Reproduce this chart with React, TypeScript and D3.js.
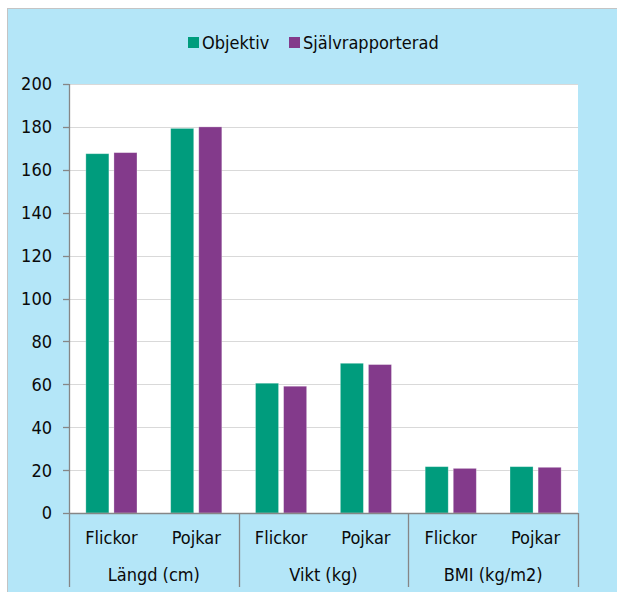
import React, { useEffect, useRef } from 'react';
import * as d3 from 'd3';

const groups = ['Längd (cm)', 'Vikt (kg)', 'BMI (kg/m2)'];
const subCategories = ['Flickor', 'Pojkar'];
const seriesNames = ['Objektiv', 'Självrapporterad'];
const seriesColors = ['#009c7d', '#833a8b'];

// values per group, ordered Flickor, Pojkar
const objektiv = [
  [167.5, 179.3],
  [60.5, 69.8],
  [21.6, 21.6],
];
const sjalvrapporterad = [
  [168.0, 180.0],
  [59.1, 69.2],
  [20.8, 21.3],
];
const yTicks = [0, 20, 40, 60, 80, 100, 120, 140, 160, 180, 200];

const W = 617;
const H = 592;
const FONT = '"DejaVu Sans Condensed", "DejaVu Sans", sans-serif';
const FS = 18;

const App: React.FC = () => {
  const ref = useRef<SVGSVGElement>(null);

  useEffect(() => {
    if (!ref.current) return;
    const svg = d3.select(ref.current);
    svg.selectAll('*').remove();

    const plot = { left: 69, right: 578, top: 84, bottom: 513 };

    // background panel
    svg.append('rect').attr('x', 0).attr('y', 0).attr('width', W).attr('height', H).attr('fill', '#fff');
    svg.append('rect').attr('x', 7).attr('y', 8).attr('width', W - 7).attr('height', H - 8).attr('fill', '#b4e6f8');
    svg.append('line').attr('x1', 7).attr('x2', W).attr('y1', 8.5).attr('y2', 8.5).attr('stroke', '#c4c4c4');
    svg.append('line').attr('x1', 7.5).attr('x2', 7.5).attr('y1', 8).attr('y2', H).attr('stroke', '#c4c4c4');

    svg
      .append('rect')
      .attr('x', plot.left)
      .attr('y', plot.top)
      .attr('width', plot.right - plot.left)
      .attr('height', plot.bottom - plot.top)
      .attr('fill', '#fff');

    const y = d3.scaleLinear().domain([0, 200]).range([plot.bottom, plot.top]);
    const x0 = d3.scaleBand().domain(groups).range([plot.left, plot.right]);
    const x1 = d3.scaleBand().domain(subCategories).range([0, x0.bandwidth()]);
    const x2 = d3
      .scaleBand()
      .domain(seriesNames)
      .range([0, x1.bandwidth()])
      .paddingInner(0.18)
      .paddingOuter(0.6);

    // gridlines
    svg
      .append('g')
      .selectAll('line')
      .data(yTicks.filter((t) => t > 0))
      .enter()
      .append('line')
      .attr('x1', plot.left)
      .attr('x2', plot.right)
      .attr('y1', (d) => Math.round(y(d)) + 0.5)
      .attr('y2', (d) => Math.round(y(d)) + 0.5)
      .attr('stroke', '#d9d9d9')
      .attr('stroke-width', 1.2);

    // bars
    const rows = groups.flatMap((g, gi) =>
      subCategories.map((s, si) => ({
        group: g,
        sub: s,
        values: [objektiv[gi][si], sjalvrapporterad[gi][si]],
      }))
    );

    svg
      .append('g')
      .selectAll('g')
      .data(rows)
      .enter()
      .append('g')
      .attr('transform', (d) => `translate(${(x0(d.group) || 0) + (x1(d.sub) || 0)},0)`)
      .selectAll('rect')
      .data((d) => d.values.map((v, i) => ({ key: seriesNames[i], value: v, color: seriesColors[i] })))
      .enter()
      .append('rect')
      .attr('x', (d) => x2(d.key) || 0)
      .attr('y', (d) => y(d.value))
      .attr('width', x2.bandwidth())
      .attr('height', (d) => y(0) - y(d.value))
      .attr('fill', (d) => d.color)
      .attr('stroke', '#ffffff')
      .attr('stroke-opacity', 0.35)
      .attr('stroke-width', 0.8);

    // y axis
    const axisColor = '#868686';
    svg
      .append('line')
      .attr('x1', plot.left + 0.5)
      .attr('x2', plot.left + 0.5)
      .attr('y1', plot.top)
      .attr('y2', plot.bottom)
      .attr('stroke', axisColor)
      .attr('stroke-width', 1.3);

    const yAxis = svg.append('g');
    yAxis
      .selectAll('line')
      .data(yTicks)
      .enter()
      .append('line')
      .attr('x1', plot.left - 6)
      .attr('x2', plot.left)
      .attr('y1', (d) => Math.round(y(d)) + 0.5)
      .attr('y2', (d) => Math.round(y(d)) + 0.5)
      .attr('stroke', axisColor)
      .attr('stroke-width', 1.3);
    yAxis
      .selectAll('text')
      .data(yTicks)
      .enter()
      .append('text')
      .attr('x', 52)
      .attr('y', (d) => y(d))
      .attr('dy', '0.36em')
      .attr('text-anchor', 'end')
      .attr('font-family', FONT)
      .attr('font-size', FS)
      .attr('fill', '#0a0a0a')
      .text((d) => d);

    // x axis
    svg
      .append('line')
      .attr('x1', plot.left)
      .attr('x2', plot.right)
      .attr('y1', plot.bottom + 0.5)
      .attr('y2', plot.bottom + 0.5)
      .attr('stroke', axisColor)
      .attr('stroke-width', 1.3);

    const sepX = groups.map((g) => x0(g) || 0).concat([plot.right]);
    svg
      .append('g')
      .selectAll('line')
      .data(sepX)
      .enter()
      .append('line')
      .attr('x1', (d) => Math.round(d) + 0.5)
      .attr('x2', (d) => Math.round(d) + 0.5)
      .attr('y1', plot.bottom)
      .attr('y2', 587)
      .attr('stroke', axisColor)
      .attr('stroke-width', 1.3);

    svg
      .append('g')
      .selectAll('text')
      .data(rows)
      .enter()
      .append('text')
      .attr('x', (d) => (x0(d.group) || 0) + (x1(d.sub) || 0) + x1.bandwidth() / 2)
      .attr('y', 544)
      .attr('text-anchor', 'middle')
      .attr('font-family', FONT)
      .attr('font-size', FS)
      .attr('fill', '#0a0a0a')
      .text((d) => d.sub);

    svg
      .append('g')
      .selectAll('text')
      .data(groups)
      .enter()
      .append('text')
      .attr('x', (d) => (x0(d) || 0) + x0.bandwidth() / 2)
      .attr('y', 581)
      .attr('text-anchor', 'middle')
      .attr('font-family', FONT)
      .attr('font-size', FS)
      .attr('fill', '#0a0a0a')
      .text((d) => d);

    // legend
    const legendX = [188, 289];
    const legend = svg
      .append('g')
      .selectAll('g')
      .data(seriesNames)
      .enter()
      .append('g')
      .attr('transform', (d, i) => `translate(${legendX[i]},37)`);
    legend
      .append('rect')
      .attr('width', 11)
      .attr('height', 11)
      .attr('fill', (d, i) => seriesColors[i]);
    legend
      .append('text')
      .attr('x', 14)
      .attr('y', 12)
      .attr('font-family', FONT)
      .attr('font-size', FS)
      .attr('fill', '#0a0a0a')
      .text((d) => d);

    return () => {
      svg.selectAll('*').remove();
    };
  }, []);

  return (
    <svg
      ref={ref}
      width={W}
      height={H}
      style={{ position: 'absolute', left: 0, top: 0, display: 'block' }}
    ></svg>
  );
};

export default App;
